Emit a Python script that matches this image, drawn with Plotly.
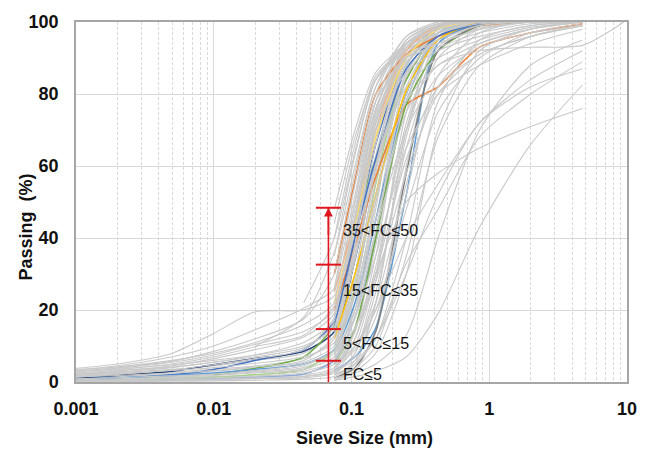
import numpy as np
import plotly.graph_objects as go

N = None
# sieve / hydrometer sizes (mm)
sizes_mm = [0.001, 0.002, 0.005, 0.01, 0.02, 0.045, 0.075, 0.106, 0.15, 0.25, 0.425, 0.85, 2.0, 4.75, 9.5]

# gray curves with hydrometer part: values at sizes_mm[0:14]
gray_hydro = [
    [0.5, 0.8, 1.2, 1.5, 2.0, 3.0, 6, 22, 52, 88, 98, 100, 100, 100],
    [1.0, 1.3, 1.8, 2.3, 3.0, 4.5, 9, 30, 62, 92, 99, 100, 100, 100],
    [0.3, 0.5, 0.8, 1.0, 1.4, 2.0, 4, 15, 40, 80, 96, 99.5, 100, 100],
    [1.5, 2.0, 2.8, 3.5, 4.5, 6.5, 12, 35, 66, 93, 99, 100, 100, 100],
    [0.8, 1.0, 1.5, 2.0, 2.8, 4.0, 8, 20, 45, 84, 97, 99.5, 100, 100],
    [2.0, 2.6, 3.5, 4.5, 6.0, 8.0, 14, 40, 72, 94, 99, 100, 100, 100],
    [0.2, 0.3, 0.5, 0.7, 1.0, 1.5, 3, 10, 30, 72, 94, 99, 100, 100],
    [1.2, 1.6, 2.2, 3.0, 4.0, 5.5, 10, 26, 55, 90, 98.5, 100, 100, 100],
    [0.6, 0.9, 1.3, 1.8, 2.5, 3.5, 7, 18, 42, 82, 96, 99.5, 100, 100],
    [2.5, 3.2, 4.2, 5.5, 7.0, 9.5, 16, 44, 75, 95, 99.5, 100, 100, 100],
    [0.4, 0.6, 0.9, 1.2, 1.6, 2.5, 5, 12, 32, 70, 92, 98.5, 100, 100],
    [1.8, 2.4, 3.2, 4.0, 5.2, 7.0, 11, 28, 58, 90, 98, 100, 100, 100],
    [0.9, 1.2, 1.7, 2.2, 3.2, 5.0, 9, 24, 50, 86, 97, 99.5, 100, 100],
    [0.1, 0.2, 0.4, 0.6, 0.9, 1.2, 2.5, 8, 25, 65, 90, 98, 100, 100],
    [1.4, 1.8, 2.5, 3.2, 4.2, 6.0, 13, 38, 68, 92, 99, 100, 100, 100],
    [3.0, 3.6, 4.8, 6.0, 7.5, 10.0, 15, 34, 60, 88, 97, 99.5, 100, 100],
    [0.0, 0.1, 0.2, 0.3, 0.5, 0.8, 1.5, 6, 22, 68, 93, 99, 100, 100],
    [0.3, 0.4, 0.6, 0.8, 1.1, 1.6, 3.5, 14, 38, 78, 95, 99.5, 100, 100],
    [3.8, 5.0, 8.0, 13.5, 19.5, 20.0, 24, 48, 74, 92, 98.5, 100, 100, 100],
    [3.2, 4.5, 7.0, 10.0, 14.5, 20.5, 26, 50, 76, 93, 99, 100, 100, 100],
    [2.8, 3.8, 5.5, 7.5, 10.5, 14.0, 20, 44, 72, 92, 98.5, 100, 100, 100],
    [3.5, 4.2, 6.0, 8.0, 11.0, 16.0, 22, 40, 68, 91, 98, 100, 100, 100],
    [2.2, 3.0, 4.5, 6.5, 9.0, 12.5, 19, 42, 70, 93, 99, 100, 100, 100],
    [3.0, 4.0, 5.8, 8.5, 12.0, 17.5, 30, 55, 78, 94, 99, 100, 100, 100],
    [2.0, 2.8, 4.0, 5.5, 7.5, 11.0, 17, 36, 63, 90, 98, 100, 100, 100],
    [1.6, 2.2, 3.4, 4.8, 6.5, 9.0, 18, 46, 73, 92, 98.5, 100, 100, 100],
    [2.4, 3.4, 5.0, 7.0, 9.8, 13.0, 21, 38, 60, 85, 96, 99.5, 100, 100],
    [N, N, N, N, N, 22, 40, 64, 84, 93, 98, 100, 100, 100],
    [N, N, N, N, 10, 18, 36, 60, 82, 94, 99, 100, 100, 100],
]

# gray curves, sieve only: values at sizes_mm[6:14]
gray_sieve = [
    [0.5, 3, 15, 60, 92, 99, 100, 100],
    [1, 5, 22, 70, 95, 99.5, 100, 100],
    [2, 8, 28, 75, 96, 100, 100, 100],
    [3, 12, 35, 80, 97, 100, 100, 100],
    [4, 14, 40, 85, 98, 100, 100, 100],
    [5, 18, 48, 88, 98, 100, 100, 100],
    [6, 20, 50, 86, 97, 99, 100, 100],
    [8, 25, 56, 90, 98, 100, 100, 100],
    [10, 30, 62, 92, 99, 100, 100, 100],
    [12, 34, 66, 93, 99, 100, 100, 100],
    [14, 38, 70, 94, 99, 100, 100, 100],
    [18, 45, 75, 95, 99, 100, 100, 100],
    [22, 50, 78, 95, 99.5, 100, 100, 100],
    [26, 55, 80, 96, 100, 100, 100, 100],
    [30, 58, 82, 96, 99.5, 100, 100, 100],
    [35, 63, 84, 94, 98, 100, 100, 100],
    [40, 66, 85, 93, 97, 99.5, 100, 100],
    [44, 68, 84, 92, 97, 100, 100, 100],
    [48, 70, 86, 94, 99, 100, 100, 100],
    [2, 5, 12, 40, 78, 95, 99, 100],
    [3, 7, 18, 52, 85, 97, 100, 100],
    [1, 3, 8, 30, 70, 92, 98, 100],
    [5, 10, 22, 55, 82, 94, 98, 100],
    [4, 9, 20, 48, 75, 90, 97, 99.5],
    [8, 15, 28, 58, 80, 91, 96, 99],
    [2, 4, 10, 35, 68, 88, 96, 99],
    [10, 28, 52, 78, 88, 94, 98, 100],
    [6, 20, 42, 70, 85, 93, 97, 99],
    [15, 35, 60, 82, 90, 95, 98.5, 100],
    [4, 12, 30, 62, 82, 91, 96, 99],
    [20, 45, 70, 86, 92, 96, 99, 100],
    [8, 18, 35, 65, 80, 88, 94, 98],
    [12, 38, 72, 90, 93, 97, 99.5, 100],
    [18, 46, 76, 91, 94, 98, 100, 100],
    [7, 25, 60, 89, 94, 98, 100, 100],
    [25, 52, 78, 90, 95, 99, 100, 100],
    [5, 15, 30, 50, 58, 65, 71, 76],
    [0.5, 1.5, 3, 7, 19, 43, 66, 82.5],
    [1, 2.5, 5, 13, 40, 70, 88, 95],
    [3, 6, 12, 33, 48, 68, 80, 89],
    [4, 10, 20, 40, 55, 72, 84, 92],
    [2, 5, 12, 30, 52, 72, 82, 87],
]

# gray curve extending to 9.5 mm: values at sizes_mm[6:15]
gray_coarse = [
    [10, 25, 45, 75, 88, 92, 93, 93.5, 100],
]

# highlighted curves
colored_hydro_colors = ["#4472C4", "#264478", "#70AD47", "#A9D18E", "#5B9BD5", "#8FAADC"]
colored_hydro = [
    [0.5, 1.0, 2.0, 3.5, 6.0, 9.0, 17, 40, 66, 90, 98.5, 100, 100, 100],
    [1.0, 1.8, 3.0, 4.8, 6.5, 8.5, 14, 34, 60, 88, 98, 100, 100, 100],
    [N, N, N, 2.0, 3.8, 7.0, 16, 44, 62, 84, 97, 100, 100, 100],
    [0.3, 0.5, 0.9, 1.3, 2.0, 3.5, 9, 26, 55, 88, 98, 100, 100, 100],
    [0.8, 1.2, 1.8, 2.5, 3.5, 5.0, 9, 22, 45, 80, 97, 100, 100, 100],
    [0.2, 0.3, 0.6, 0.9, 1.4, 2.2, 6, 18, 40, 78, 96, 100, 100, 100],
]
colored_sieve_colors = ["#ED7D31", "#ED7D31", "#F4B183", "#FFC000", "#FFD966",
                        "#5B9BD5", "#4472C4", "#70AD47", "#7f7f7f"]
colored_sieve = [
    [30, 56, 80, 91, 96, 99, 100, 100],
    [20, 38, 57, 77, 82, 93, 97, 99.5],
    [25, 45, 70, 92, 99, 100, 100, 100],
    [12, 30, 52, 81, 95, 100, 100, 100],
    [22, 44, 68, 90, 98, 100, 100, 100],
    [3, 7, 15, 52, 94, 99.5, 100, 100],
    [15, 40, 62, 87, 96, 99.5, 100, 100],
    [5, 15, 40, 77, 92, 99, 100, 100],
    [1, 4, 14, 58, 92, 99, 100, 100],
]

# fines-content classes
fc_size = 0.068
fc_bounds = [0, 5.9, 14.7, 32.6, 48.4]
fc_labels = ["FC≤5", "5<FC≤15", "15<FC≤35", "35<FC≤50"]
fc_label_y = [2.2, 10.7, 25.3, 42.0]

x_ticks = [0.001, 0.01, 0.1, 1, 10]
x_ticktext = ["0.001", "0.01", "0.1", "1", "10"]

FONT = "Liberation Sans, Arial, sans-serif"
GRAY = "#c9c9c9"
GRID = "#d9d9d9"
RED = "#e0161e"

fig = go.Figure()


def add_curve(xs, ys, color, width):
    fig.add_trace(go.Scatter(x=xs, y=ys, mode="lines", line=dict(color=color, width=width,
                             shape="spline", smoothing=0.7), hoverinfo="skip", showlegend=False))


# interleave colored and gray curves so colored ones look partly covered
for row in gray_hydro[:8]:
    add_curve(sizes_mm[:14], row, GRAY, 1.1)
for c, row in zip(colored_hydro_colors, colored_hydro):
    add_curve(sizes_mm[:14], row, c, 1.5)
for row in gray_hydro[8:]:
    add_curve(sizes_mm[:14], row, GRAY, 1.1)
for row in gray_sieve[:10]:
    add_curve(sizes_mm[6:14], row, GRAY, 1.1)
for c, row in zip(colored_sieve_colors, colored_sieve):
    add_curve(sizes_mm[6:14], row, c, 1.5)
for row in gray_sieve[10:]:
    add_curve(sizes_mm[6:14], row, GRAY, 1.1)
for row in gray_coarse:
    add_curve(sizes_mm[6:15], row, GRAY, 1.1)

# red FC bar
fig.add_trace(go.Scatter(x=[fc_size, fc_size], y=[fc_bounds[0], fc_bounds[-1]], mode="lines",
                         line=dict(color=RED, width=1.6), hoverinfo="skip", showlegend=False))
fig.add_trace(go.Scatter(x=[fc_size] * (len(fc_bounds) - 1), y=fc_bounds[1:], mode="markers",
                         marker=dict(symbol="line-ew", size=18, line=dict(color=RED, width=2)),
                         hoverinfo="skip", showlegend=False))
fig.add_annotation(x=np.log10(fc_size), y=fc_bounds[-1], ax=np.log10(fc_size), ay=fc_bounds[-1] - 8,
                   xref="x", yref="y", axref="x", ayref="y", text="", showarrow=True,
                   arrowhead=2, arrowsize=1.1, arrowwidth=1.6, arrowcolor=RED)

for lab, yy in zip(fc_labels, fc_label_y):
    fig.add_annotation(x=np.log10(0.0845), y=yy, xref="x", yref="y", text=lab, showarrow=False,
                       xanchor="left", yanchor="middle",
                       font=dict(family=FONT, size=16, color="#111111"))

# axis titles
fig.add_annotation(x=0.5235, y=-0.155, xref="paper", yref="paper", text="<b>Sieve Size (mm)</b>",
                   showarrow=False, xanchor="center", yanchor="middle",
                   font=dict(family=FONT, size=18, color="#111111"))
fig.add_annotation(x=-0.09, y=0.43, xref="paper", yref="paper", text="<b>Passing  (%)</b>",
                   showarrow=False, textangle=-90, xanchor="center", yanchor="middle",
                   font=dict(family=FONT, size=18, color="#111111"))

minor_vals = [m * 10.0 ** e for e in range(-3, 1) for m in range(2, 10)]

fig.update_layout(
    width=649, height=450,
    margin=dict(l=76, r=19, t=18, b=68),
    paper_bgcolor="white", plot_bgcolor="white",
    font=dict(family=FONT, color="#111111"),
    showlegend=False,
)
fig.update_xaxes(
    type="log", range=[-3, 1],
    tickmode="array", tickvals=x_ticks, ticktext=x_ticktext,
    tickfont=dict(family=FONT, size=18, color="#111111", weight="bold"),
    showgrid=True, gridcolor=GRID, gridwidth=1,
    minor=dict(tickmode="array", tickvals=minor_vals, showgrid=True, gridcolor=GRID,
               griddash="3px,2px", gridwidth=1, ticks=""),
    showline=True, linecolor="#a6a6a6", linewidth=1.5, mirror=True,
    ticks="", ticklabelstandoff=10, zeroline=False,
)
fig.update_yaxes(
    range=[0, 100], dtick=20,
    tickfont=dict(family=FONT, size=18, color="#111111", weight="bold"),
    showgrid=True, gridcolor=GRID, gridwidth=1,
    showline=True, linecolor="#a6a6a6", linewidth=1.5, mirror=True,
    ticks="", ticklabelstandoff=12, zeroline=False,
)

fig.write_html("out.html")
